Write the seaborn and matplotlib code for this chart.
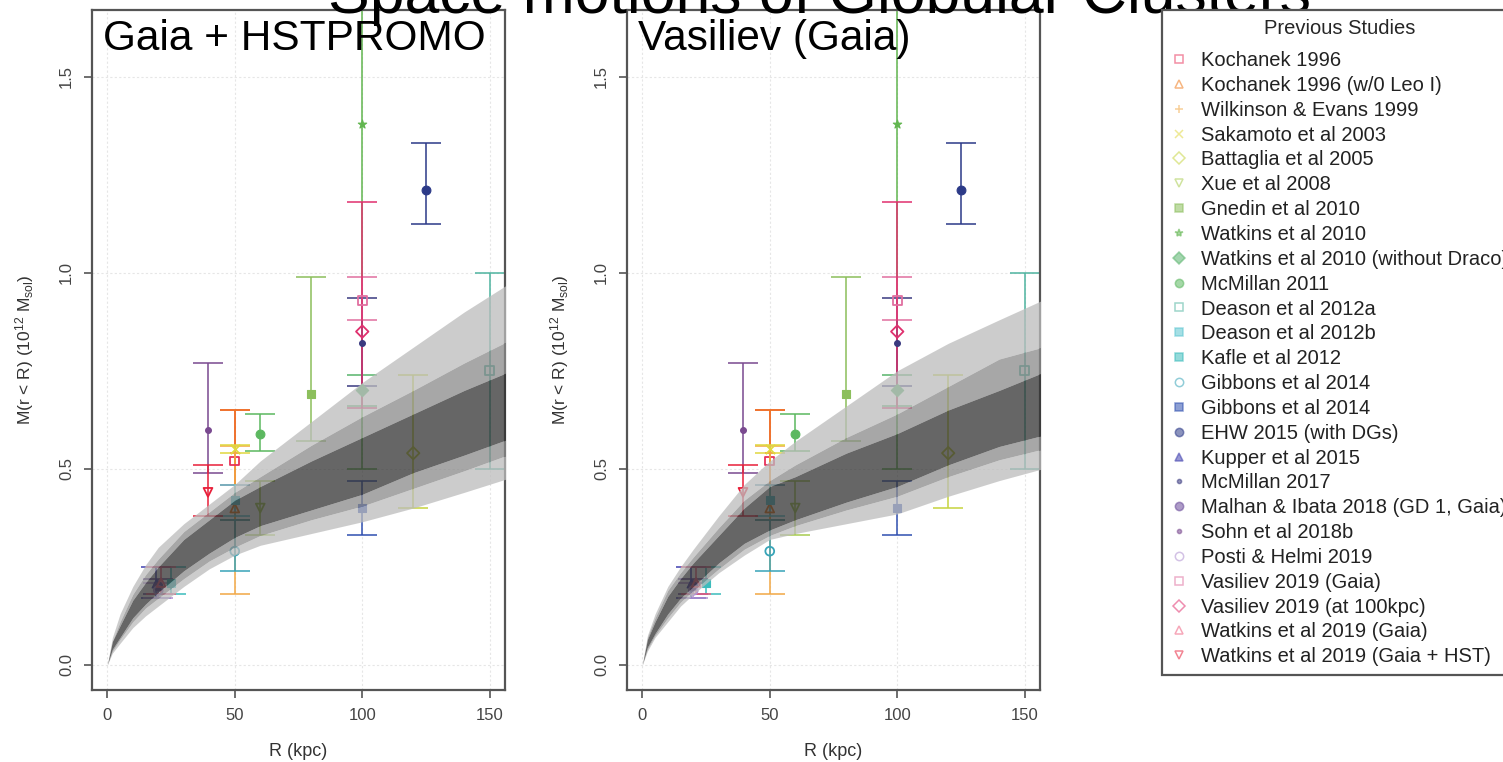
import numpy as np
import pandas as pd
import seaborn as sns
import matplotlib.pyplot as plt
from matplotlib.lines import Line2D

# ---------------------------------------------------------------
# data
# ---------------------------------------------------------------
studies = ["Kochanek 1996", "Kochanek 1996 (w/0 Leo I)", "Wilkinson & Evans 1999",
           "Sakamoto et al 2003", "Battaglia et al 2005", "Xue et al 2008",
           "Gnedin et al 2010", "Watkins et al 2010", "Watkins et al 2010 (without Draco)",
           "McMillan 2011", "Deason et al 2012a", "Deason et al 2012b", "Kafle et al 2012",
           "Gibbons et al 2014", "Gibbons et al 2014", "EHW 2015 (with DGs)",
           "Kupper et al 2015", "McMillan 2017", "Malhan & Ibata 2018 (GD 1, Gaia)",
           "Sohn et al 2018b", "Posti & Helmi 2019", "Vasiliev 2019 (Gaia)",
           "Vasiliev 2019 (at 100kpc)", "Watkins et al 2019 (Gaia)",
           "Watkins et al 2019 (Gaia + HST)"]
radius = [50, 50, 50, 50, 120, 60, 80, 100, 100, 60, 150, 50, 25,
          50, 100, 125, 19, 100, 20, 39.5, 20, 100, 100, 21.1, 39.5]
mass = [0.52, 0.40, 0.54, 0.55, 0.54, 0.40, 0.69, 1.38, 0.70, 0.59, 0.75, 0.42, 0.21,
        0.29, 0.40, 1.21, 0.21, 0.82, 0.20, 0.60, 0.19, 0.93, 0.85, 0.21, 0.44]
mass_lo = [0.46, 0.37, 0.18, 0.54, 0.40, 0.33, 0.57, 0.50, 0.66, 0.545, 0.50, 0.38, 0.18,
           0.24, 0.33, 1.125, 0.17, 0.71, 0.18, 0.49, 0.17, 0.88, 0.655, 0.18, 0.38]
mass_hi = [0.65, 0.65, 0.557, 0.56, 0.74, 0.47, 0.99, 2.26, 0.74, 0.64, 1.00, 0.46, 0.25,
           0.37, 0.47, 1.33, 0.25, 0.935, 0.22, 0.77, 0.21, 0.99, 1.18, 0.25, 0.51]

# credible bands of the fitted mass profile
band_r = [0, 2, 5, 10, 15, 20, 30, 40, 50, 60, 80, 100, 120, 140, 157]

hst_light_lo = [0, 0.03, 0.055, 0.095, 0.125, 0.15, 0.20, 0.245, 0.28, 0.305, 0.335, 0.365, 0.40, 0.44, 0.475]
hst_mid_lo = [0, 0.035, 0.065, 0.11, 0.145, 0.17, 0.22, 0.265, 0.30, 0.33, 0.37, 0.405, 0.45, 0.495, 0.535]
hst_dark_lo = [0, 0.04, 0.07, 0.12, 0.155, 0.185, 0.24, 0.285, 0.325, 0.355, 0.395, 0.435, 0.49, 0.535, 0.575]
hst_dark_hi = [0, 0.06, 0.10, 0.165, 0.21, 0.25, 0.32, 0.37, 0.42, 0.455, 0.52, 0.58, 0.64, 0.70, 0.746]
hst_mid_hi = [0, 0.06, 0.11, 0.18, 0.23, 0.27, 0.34, 0.39, 0.44, 0.48, 0.56, 0.633, 0.70, 0.77, 0.825]
hst_light_hi = [0, 0.07, 0.13, 0.20, 0.255, 0.30, 0.36, 0.41, 0.46, 0.52, 0.62, 0.72, 0.81, 0.90, 0.97]

vas_light_lo = [0, 0.035, 0.07, 0.11, 0.15, 0.18, 0.235, 0.28, 0.32, 0.335, 0.36, 0.385, 0.43, 0.47, 0.50]
vas_mid_lo = [0, 0.04, 0.075, 0.12, 0.16, 0.19, 0.245, 0.295, 0.33, 0.355, 0.395, 0.43, 0.48, 0.523, 0.55]
vas_dark_lo = [0, 0.045, 0.08, 0.13, 0.17, 0.20, 0.26, 0.31, 0.344, 0.37, 0.415, 0.455, 0.51, 0.557, 0.585]
vas_dark_hi = [0, 0.065, 0.11, 0.175, 0.22, 0.26, 0.33, 0.40, 0.455, 0.48, 0.54, 0.59, 0.65, 0.70, 0.745]
vas_mid_hi = [0, 0.07, 0.12, 0.19, 0.235, 0.275, 0.35, 0.42, 0.47, 0.51, 0.58, 0.64, 0.71, 0.78, 0.81]
vas_light_hi = [0, 0.075, 0.13, 0.20, 0.25, 0.295, 0.38, 0.46, 0.52, 0.57, 0.66, 0.75, 0.82, 0.88, 0.93]

# ---------------------------------------------------------------
# styles
# ---------------------------------------------------------------
colours = ['#e8325a', '#f07a1a', '#f2a845', '#e0d840', '#c6d43e', '#a8cc50',
           '#8cbf5c', '#62b650', '#58b46c', '#5cb860', '#4fb4a0', '#5cc6d0',
           '#3cbcbc', '#38a4b8', '#3050b0', '#2c3a88', '#4242b0', '#3a3a80',
           '#6a4a9a', '#7a4a90', '#b090d0', '#e070a0', '#e0306e', '#f06080', '#e8203a']
markers = ['s', '^', '+', 'x', 'D', 'v', 's', '*', 'D', 'o', 's', 's', 's',
           'o', 's', 'o', '^', '.', 'o', '.', 'o', 's', 'D', '^', 'v']
hollow = [True, True, False, False, True, True, False, False, False, False, True, False, False,
          True, False, False, False, False, False, False, True, True, True, True, True]

df = pd.DataFrame({'study': studies, 'R': radius, 'M': mass, 'lo': mass_lo, 'hi': mass_hi})

sns.set_theme(style='white')
plt.rcParams['font.family'] = ['Liberation Sans', 'DejaVu Sans']
plt.rcParams['mathtext.default'] = 'regular'

fig = plt.figure(figsize=(15.03, 7.62), dpi=100)
axL = fig.add_axes([92 / 1503, 72 / 762, 413 / 1503, 680 / 762])
axR = fig.add_axes([627 / 1503, 72 / 762, 413 / 1503, 680 / 762])


def draw_panel(ax, title, bands):
    ax.set_xlim(-6, 156)
    ax.set_ylim(-0.064, 1.67)
    ax.set_xticks([0, 50, 100, 150])
    ax.set_yticks([0, 0.5, 1.0, 1.5], labels=['0.0', '0.5', '1.0', '1.5'],
                  rotation=90, va='center')
    ax.grid(True, color='#e6e6e6', linestyle=(0, (2, 2)), linewidth=0.8)
    ax.set_axisbelow(True)
    ax.tick_params(bottom=True, left=True, direction='out', length=6, width=1.2,
                   color='#555555', labelsize=12, labelcolor='#444444', pad=7)
    for sp in ax.spines.values():
        sp.set_color('#555555')
        sp.set_linewidth(1.6)

    # error bars (not clipped, as in the original)
    for i, row in df.iterrows():
        eb = ax.errorbar(row['R'], row['M'], yerr=[[row['M'] - row['lo']], [row['hi'] - row['M']]],
                         fmt='none', ecolor=colours[i], elinewidth=1.3, capsize=11,
                         capthick=1.3, alpha=0.85, zorder=2)
        for art in eb.lines[1] + eb.lines[2]:
            art.set_clip_on(False)

    # points
    for i, row in df.iterrows():
        if markers[i] in ('+', 'x'):
            sns.scatterplot(x=[row['R']], y=[row['M']], marker=markers[i], s=45,
                            color=colours[i], linewidth=1.3, ax=ax, zorder=2.5)
        elif hollow[i]:
            sns.scatterplot(x=[row['R']], y=[row['M']], marker=markers[i], s=40,
                            facecolor='none', edgecolor=colours[i], linewidth=1.3,
                            ax=ax, zorder=2.5)
        else:
            sz = 70 if markers[i] == '.' else 40
            sns.scatterplot(x=[row['R']], y=[row['M']], marker=markers[i], s=sz,
                            color=colours[i], edgecolor=colours[i], linewidth=0.8,
                            ax=ax, zorder=2.5)

    # shaded credible regions drawn over the points
    lt_lo, md_lo, dk_lo, dk_hi, md_hi, lt_hi = bands
    light, medium, dark = '#bcbcbc', '#8a8a8a', '#333333'
    strips = [(lt_lo, md_lo, light), (md_hi, lt_hi, light),
              (md_lo, dk_lo, medium), (dk_hi, md_hi, medium),
              (dk_lo, dk_hi, dark)]
    for lo, hi, col in strips:
        ax.fill_between(band_r, lo, hi, color=col, alpha=0.75, linewidth=0, zorder=3)

    ax.set_xlabel('R (kpc)', fontsize=13, color='#333333')
    ax.set_ylabel(r'M(r < R) (10$^{12}$ M$_{sol}$)', fontsize=12.5, color='#333333')
    ax.xaxis.set_label_coords(0.5, -0.078)
    ax.yaxis.set_label_coords(-0.136, 0.5)
    ax.text(0.027, 0.941, title, transform=ax.transAxes, fontsize=30.5,
            ha='left', va='baseline', color='black', zorder=6)


draw_panel(axL, 'Gaia + HSTPROMO',
           (hst_light_lo, hst_mid_lo, hst_dark_lo, hst_dark_hi, hst_mid_hi, hst_light_hi))
draw_panel(axR, 'Vasiliev (Gaia)',
           (vas_light_lo, vas_mid_lo, vas_dark_lo, vas_dark_hi, vas_mid_hi, vas_light_hi))

fig.text(0.545, 1 - 13 / 762, 'Space motions of Globular Clusters', fontsize=45,
         ha='center', va='baseline', color='black')

# legend
handles = []
for i in range(len(studies)):
    fc = 'none' if hollow[i] else colours[i]
    handles.append(Line2D([], [], linestyle='none', marker=markers[i], markersize=6,
                          markeredgecolor=colours[i], markerfacecolor=fc,
                          markeredgewidth=1.1, alpha=0.55))
leg = fig.legend(handles, studies, loc='upper left',
                 bbox_to_anchor=(1162 / 1503, 1 - 10 / 762), bbox_transform=fig.transFigure,
                 borderaxespad=0, frameon=True, fancybox=False, edgecolor='#555555',
                 framealpha=1, fontsize=14.5, title='Previous Studies', title_fontsize=14.5,
                 labelspacing=0.29, handlelength=0.8, handletextpad=0.7, borderpad=0.45,
                 labelcolor='#222222')
leg.get_frame().set_linewidth(1.6)
# a little extra room between the title and the first entry
leg._legend_box.sep = 0.29 * 14.5 + 5.2

fig.savefig('out.png', dpi=100)
